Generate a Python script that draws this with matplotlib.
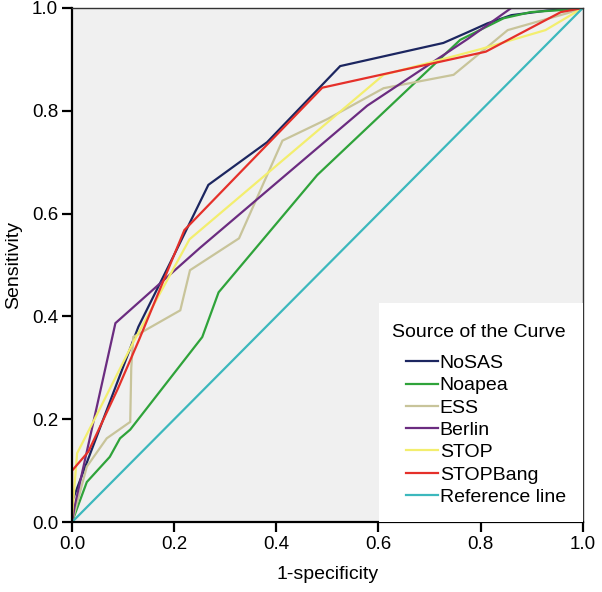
import matplotlib.pyplot as plt
from matplotlib.patches import Rectangle

plt.rcParams['font.family'] = ['Liberation Sans', 'DejaVu Sans']

# ROC curves
nosas_x = [0.0, 0.0, 0.13, 0.20, 0.267, 0.382, 0.525, 0.727, 0.775, 0.813, 0.86, 0.93, 1.0]
nosas_y = [0.0, 0.04, 0.38, 0.52, 0.656, 0.739, 0.887, 0.932, 0.953, 0.97, 0.986, 0.995, 1.0]

noapea_x = [0.0, 0.029, 0.074, 0.094, 0.114, 0.255, 0.287, 0.48, 0.76, 0.845, 0.898, 0.957, 1.0]
noapea_y = [0.0, 0.078, 0.127, 0.163, 0.18, 0.36, 0.447, 0.675, 0.938, 0.98, 0.992, 0.996, 1.0]

ess_x = [0.0, 0.029, 0.068, 0.114, 0.116, 0.12, 0.212, 0.231, 0.327, 0.412, 0.5, 0.61, 0.747, 0.813, 0.853, 0.97, 1.0]
ess_y = [0.0, 0.108, 0.163, 0.195, 0.30, 0.36, 0.412, 0.49, 0.552, 0.742, 0.784, 0.844, 0.87, 0.924, 0.957, 0.99, 1.0]

berlin_x = [0.0, 0.005, 0.085, 0.25, 0.578, 0.775, 0.86, 1.0]
berlin_y = [0.0, 0.03, 0.387, 0.533, 0.81, 0.94, 1.0, 1.0]

stop_x = [0.0, 0.0, 0.01, 0.043, 0.12, 0.23, 0.61, 0.682, 0.8, 0.927, 1.0]
stop_y = [0.0, 0.01, 0.134, 0.198, 0.35, 0.55, 0.87, 0.889, 0.92, 0.957, 1.0]

stopbang_x = [0.0, 0.0, 0.032, 0.09, 0.131, 0.22, 0.49, 0.81, 0.957, 1.0]
stopbang_y = [0.0, 0.10, 0.137, 0.26, 0.354, 0.568, 0.845, 0.915, 0.992, 1.0]

ref_x = [0.0, 1.0]
ref_y = [0.0, 1.0]

names = ['NoSAS', 'Noapea', 'ESS', 'Berlin', 'STOP', 'STOPBang', 'Reference line']
colors = ['#1c2660', '#2fa33a', '#c8c49a', '#6b2c80', '#f3ee6e', '#e5302a', '#3cb8bd']
curves = [(nosas_x, nosas_y), (noapea_x, noapea_y), (ess_x, ess_y), (berlin_x, berlin_y),
          (stop_x, stop_y), (stopbang_x, stopbang_y), (ref_x, ref_y)]

fig = plt.figure(figsize=(6.02, 5.92), dpi=100)
ax = fig.add_axes([0.1196, 0.118, 0.8485, 0.8685])
ax.set_facecolor('#f0f0f0')

for (x, y), c, n in zip(curves, colors, names):
    ax.plot(x, y, color=c, lw=1.6, label=n, solid_joinstyle='miter')

ax.set_xlim(0, 1)
ax.set_ylim(0, 1)
ticks = [0.0, 0.2, 0.4, 0.6, 0.8, 1.0]
ax.set_xticks(ticks)
ax.set_yticks(ticks)
ax.set_xticklabels(['%.1f' % t for t in ticks])
ax.set_yticklabels(['%.1f' % t for t in ticks])
ax.tick_params(direction='out', length=7, width=1.6, labelsize=13.5, pad=3, color='black')
for s in ['left', 'bottom']:
    ax.spines[s].set_linewidth(1.6)
    ax.spines[s].set_color('black')
for s in ['top', 'right']:
    ax.spines[s].set_linewidth(1.0)
    ax.spines[s].set_color('#333333')

ax.set_xlabel('1-specificity', fontsize=14, labelpad=9)
ax.set_ylabel('Sensitivity', fontsize=14, labelpad=7)

# legend panel
ax.add_patch(Rectangle((0.602, 0.0), 0.398, 0.426, transform=ax.transAxes,
                       facecolor='white', edgecolor='none', zorder=3))
ax.text(0.626, 0.368, 'Source of the Curve', transform=ax.transAxes,
        fontsize=14, va='center', ha='left', zorder=4)
leg = ax.legend(loc='upper left', bbox_to_anchor=(0.654, 0.326), frameon=False,
                fontsize=14, handlelength=1.65, handletextpad=0.08, labelspacing=0.24,
                borderpad=0, borderaxespad=0)
leg.set_zorder(5)

fig.savefig('out.png', dpi=100)
